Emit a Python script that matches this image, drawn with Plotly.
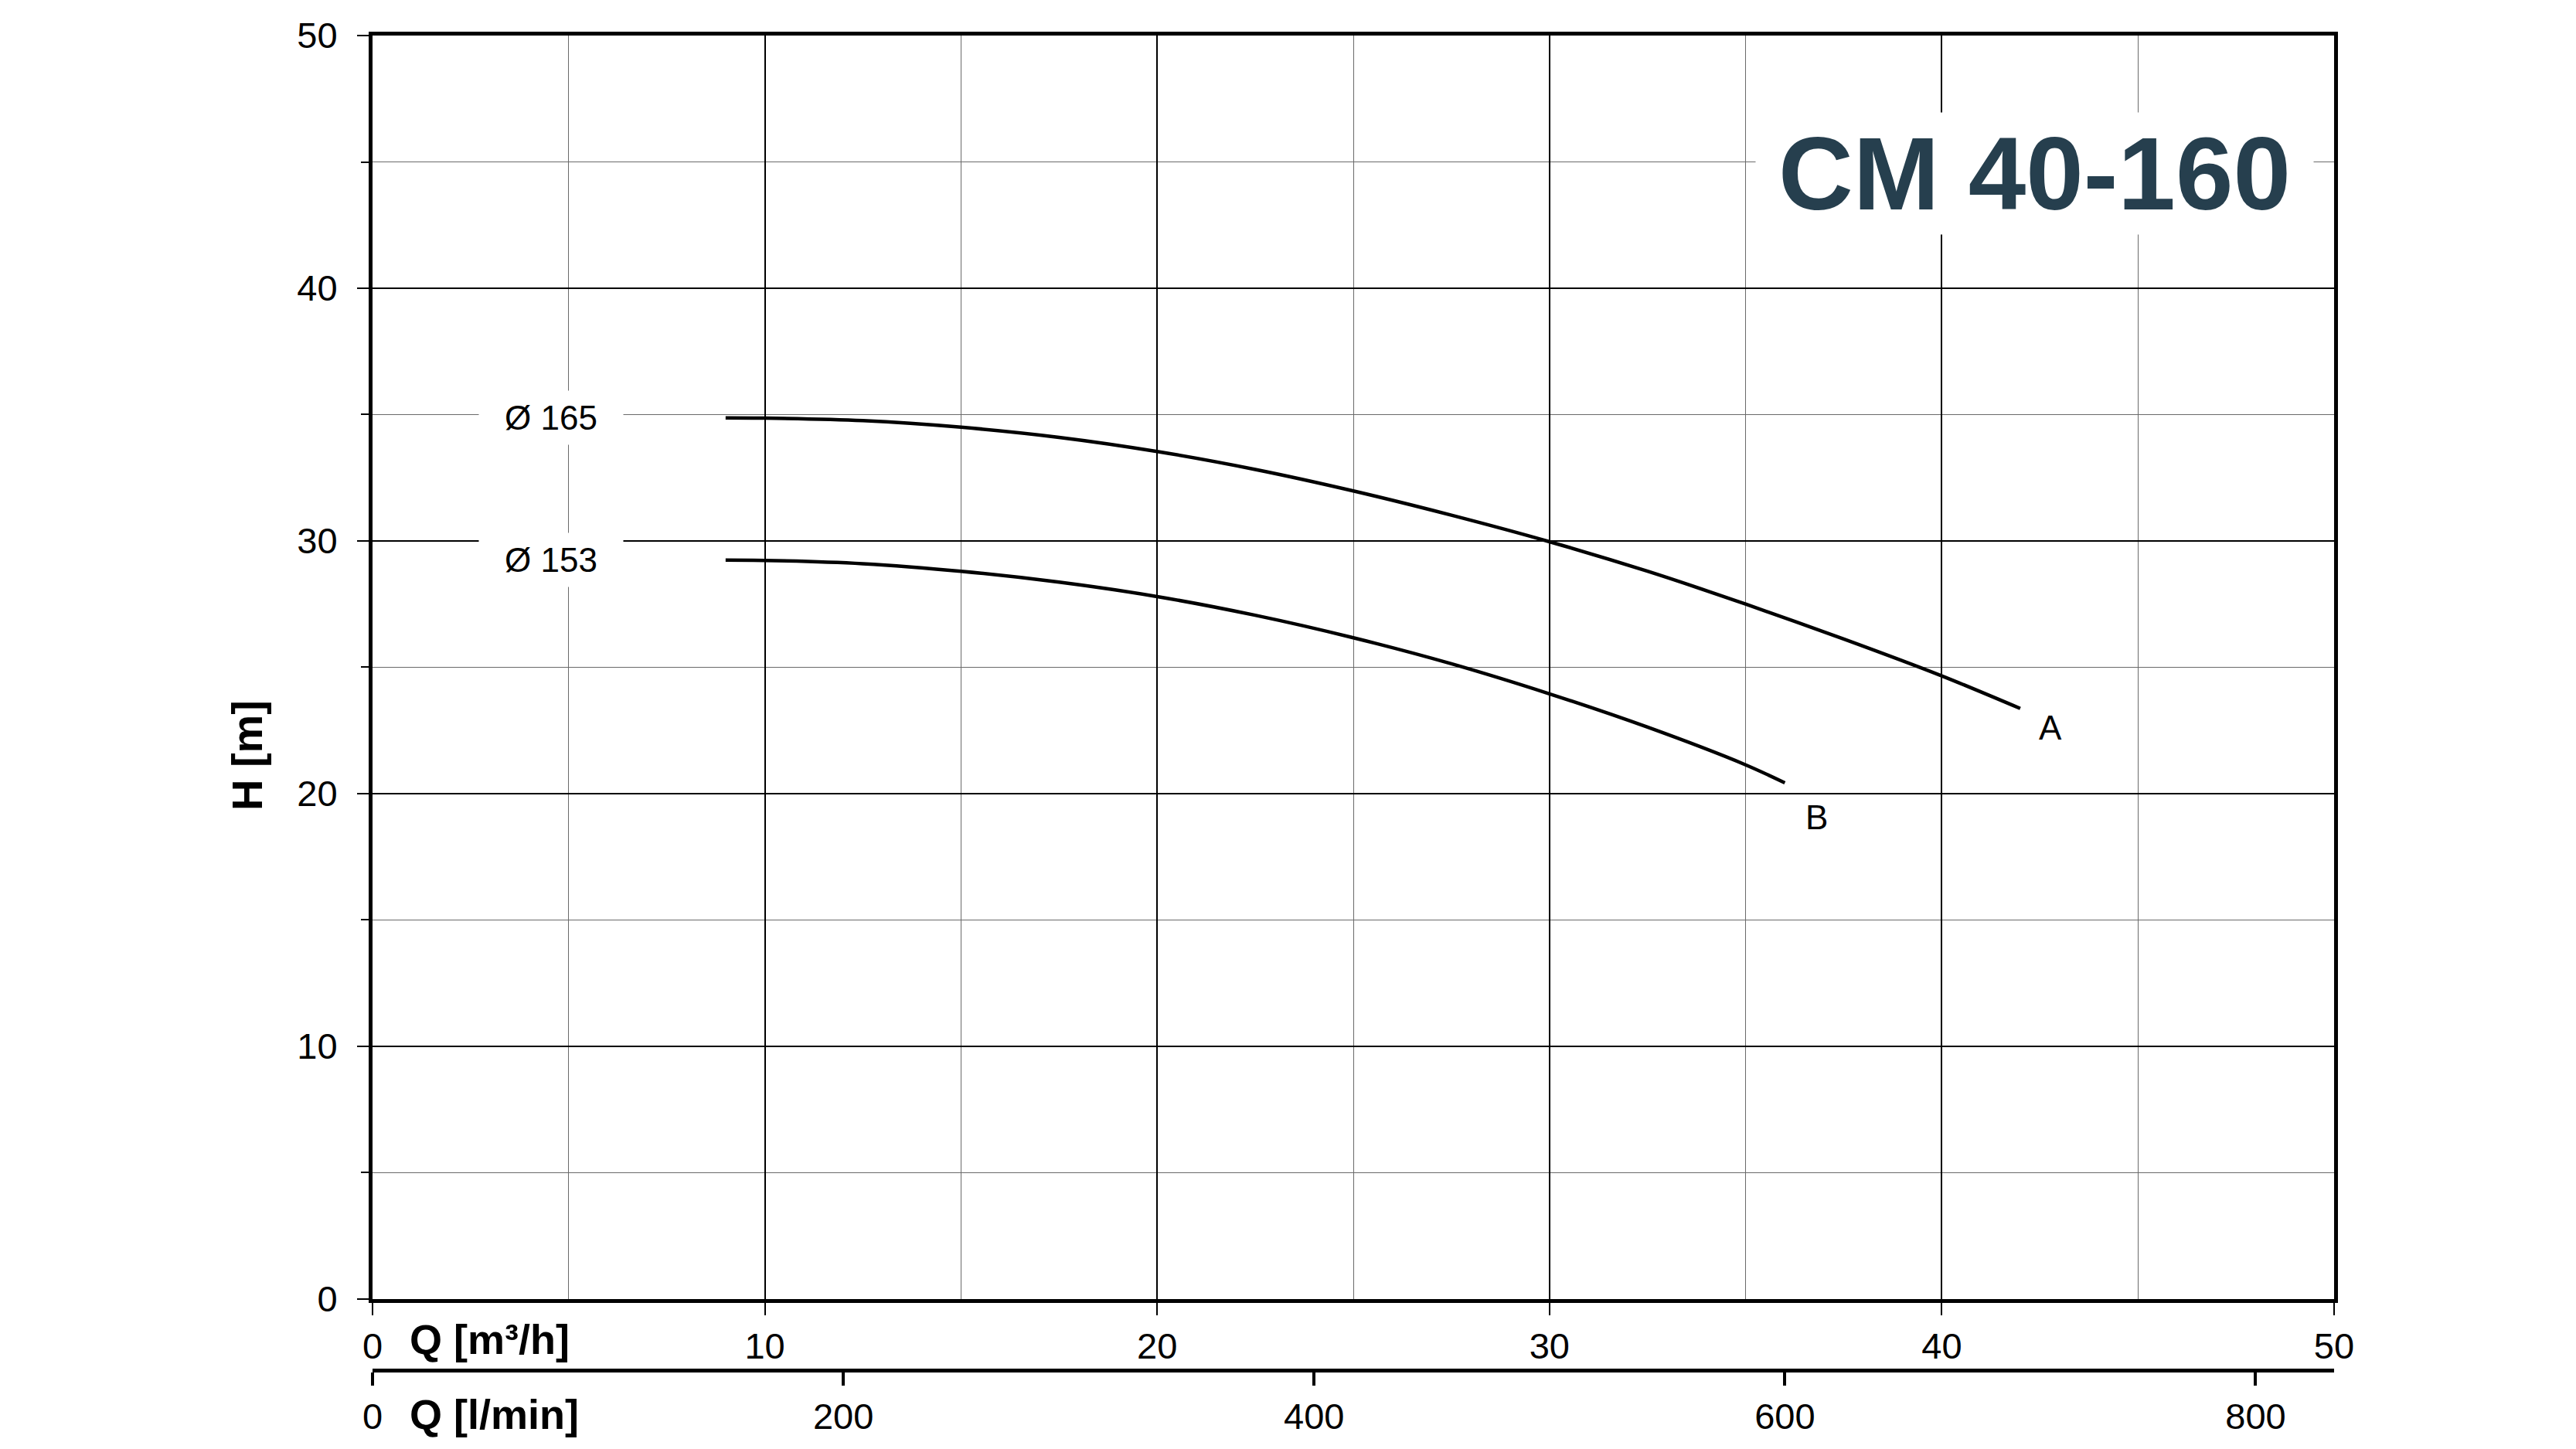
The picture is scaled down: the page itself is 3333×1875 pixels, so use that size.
import plotly.graph_objects as go

# --- 데이터 ---
q_a = [9, 10, 12.5, 15, 17.5, 20, 22.5, 25, 27.5, 30, 32.5, 35, 37.5, 40, 42]
h_a = [34.87, 34.86, 34.76, 34.50, 34.10, 33.54, 32.83, 31.98, 31.02, 29.97, 28.80, 27.50, 26.12, 24.66, 23.37]

q_b = [9, 10, 12.5, 15, 17.5, 20, 22.5, 25, 27.5, 30, 32.5, 35, 36]
h_b = [29.24, 29.23, 29.10, 28.80, 28.37, 27.80, 27.06, 26.17, 25.14, 23.95, 22.63, 21.14, 20.43]

curve_names = ["A", "B"]
diameters = ["Ø 165", "Ø 153"]
model_name = "CM 40-160"

q_ticks = [0, 10, 20, 30, 40, 50]
lmin_ticks = [0, 200, 400, 600, 800]
h_ticks = [0, 10, 20, 30, 40, 50]

FONT = "Liberation Sans, Arial, sans-serif"
TICK_SIZE = 47

fig = go.Figure()

curves = [(q_a, h_a), (q_b, h_b)]
for name, (q, h) in zip(curve_names, curves):
    fig.add_trace(go.Scatter(
        x=q, y=h, mode="lines", name=name,
        line=dict(color="black", width=4.5, shape="spline", smoothing=0.8),
        hoverinfo="skip",
    ))

# l/min 축을 그리기 위한 보이지 않는 trace
fig.add_trace(go.Scatter(
    x=[v * 1000 / 60 for v in q_a], y=h_a, xaxis="x2", mode="lines",
    line=dict(width=0), opacity=0, hoverinfo="skip", showlegend=False,
))

annotations = []
# 곡선 끝 라벨 A, B
label_shifts = [(39, -25), (41, -45)]
for name, (q, h), (dx, dy) in zip(curve_names, curves, label_shifts):
    annotations.append(dict(
        x=q[-1], y=h[-1], xref="x", yref="y", text=name, showarrow=False,
        xshift=dx, yshift=dy, font=dict(family=FONT, size=44, color="black"),
    ))

# 임펠러 지름 라벨 (흰 배경으로 격자선 가림)
for dia, (q, h) in zip(diameters, curves):
    annotations.append(dict(
        x=4.55, y=h[0], xref="x", yref="y", text=dia, showarrow=False,
        bgcolor="white", width=186, height=69, borderpad=0,
        font=dict(family=FONT, size=44, color="black"),
    ))

# 모델명
annotations.append(dict(
    x=42.36, y=44.53, xref="x", yref="y", text=model_name, showarrow=False,
    bgcolor="white", width=721, height=157, borderpad=0,
    font=dict(family=FONT, size=134, color="#263f4e", weight="bold"),
))

# 축 제목
annotations += [
    dict(x=0.018, y=0.0674, xref="paper", yref="paper", text="Q [m³/h]",
         xanchor="left", yanchor="middle", showarrow=False,
         font=dict(family=FONT, size=54, color="black", weight="bold")),
    dict(x=0.018, y=0.0138, xref="paper", yref="paper", text="Q [l/min]",
         xanchor="left", yanchor="middle", showarrow=False,
         font=dict(family=FONT, size=54, color="black", weight="bold")),
    dict(x=-0.0638, y=0.4848, xref="paper", yref="paper", text="H [m]",
         textangle=-90, xanchor="center", yanchor="middle", showarrow=False,
         font=dict(family=FONT, size=56, color="black", weight="bold")),
]

# 페이지 body 여백(8px)을 감안해 그림 크기를 줄임
fig.update_layout(
    width=3325, height=1867,
    margin=dict(l=474, r=313, t=38, b=20),
    paper_bgcolor="white", plot_bgcolor="white",
    showlegend=False,
    font=dict(family=FONT, size=TICK_SIZE, color="black"),
    annotations=annotations,
    xaxis=dict(
        range=[0, 50], tickvals=q_ticks, ticks="outside", ticklen=16, tickwidth=2,
        tickcolor="black", ticklabelstandoff=0, automargin=False,
        showline=True, linewidth=5, linecolor="black", mirror=True,
        showgrid=True, gridcolor="black", gridwidth=2, zeroline=False,
        minor=dict(dtick=5, showgrid=True, gridcolor="#6a6a6a", gridwidth=1.3, ticks=""),
        tickfont=dict(family=FONT, size=TICK_SIZE),
    ),
    xaxis2=dict(
        range=[0, 50 * 1000 / 60], overlaying="x", anchor="free", position=0.0453,
        tickvals=lmin_ticks, ticks="outside", ticklen=17, tickwidth=4, tickcolor="black",
        ticklabelstandoff=0, automargin=False,
        showline=True, linewidth=5, linecolor="black", showgrid=False, zeroline=False,
        tickfont=dict(family=FONT, size=TICK_SIZE),
    ),
    yaxis=dict(
        range=[0, 50], domain=[0.0962, 1], tickvals=h_ticks, ticks="outside", ticklen=15,
        tickwidth=2, tickcolor="black", ticklabelstandoff=16, automargin=False,
        showline=True, linewidth=5, linecolor="black", mirror=True,
        showgrid=True, gridcolor="black", gridwidth=2, zeroline=False,
        minor=dict(dtick=5, showgrid=True, gridcolor="#6a6a6a", gridwidth=1.3,
                   ticks="outside", ticklen=10, tickwidth=2, tickcolor="black"),
        tickfont=dict(family=FONT, size=TICK_SIZE),
    ),
)

fig.write_html("out.html")
